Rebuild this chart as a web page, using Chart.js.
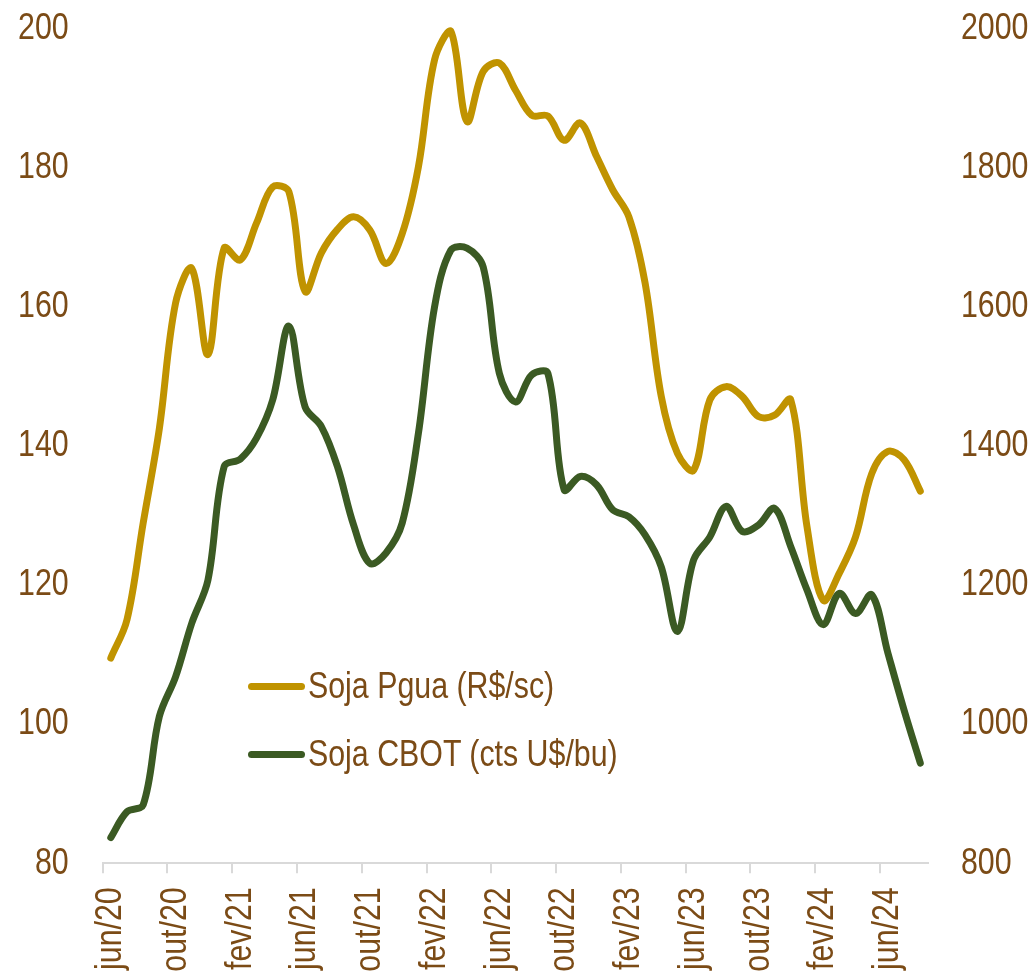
<!DOCTYPE html>
<html lang="pt-BR">
<head>
  <meta charset="UTF-8" />
  <title>Soja Paranaguá x CBOT</title>
  <style>
    body {
      margin: 0;
      background: #fff;
    }
    #wrap {
      position: relative;
      width: 1035px;
      height: 973px;
    }
    #legend {
      position: absolute;
      left: 248px;
      top: 652px;
      font-family: 'Liberation Sans', Arial, sans-serif;
      font-size: 37px;
      color: #7b4b16;
    }
    .item {
      display: flex;
      align-items: center;
      height: 68px;
      white-space: nowrap;
    }
    .swatch {
      width: 57px;
      height: 7px;
      border-radius: 4px;
      margin-right: 3px;
    }
    .item .txt {
      display: inline-block;
      transform: scaleX(0.82);
      transform-origin: left center;
    }
  </style>
</head>
<body>
  <div id="wrap">
    <canvas id="chart"></canvas>
    <div id="legend"></div>
  </div>

  <script src="https://cdn.jsdelivr.net/npm/chart.js"></script>
  <script>
    // meses jun/20 .. ago/24
    const months = [
      'jun/20', 'jul/20', 'ago/20', 'set/20', 'out/20', 'nov/20', 'dez/20',
      'jan/21', 'fev/21', 'mar/21', 'abr/21', 'mai/21', 'jun/21', 'jul/21', 'ago/21', 'set/21', 'out/21', 'nov/21', 'dez/21',
      'jan/22', 'fev/22', 'mar/22', 'abr/22', 'mai/22', 'jun/22', 'jul/22', 'ago/22', 'set/22', 'out/22', 'nov/22', 'dez/22',
      'jan/23', 'fev/23', 'mar/23', 'abr/23', 'mai/23', 'jun/23', 'jul/23', 'ago/23', 'set/23', 'out/23', 'nov/23', 'dez/23',
      'jan/24', 'fev/24', 'mar/24', 'abr/24', 'mai/24', 'jun/24', 'jul/24', 'ago/24'
    ];

    // Soja Paranaguá (R$/saca) - eixo esquerdo
    const sojaPgua = [
      109.5, 115.0, 128.9, 142.5, 160.5, 165.5, 153.1,
      168.4, 166.7, 172.0, 177.2, 176.5, 162.2, 167.7, 171.1, 172.9, 171.0, 166.2, 170.5,
      180.1, 195.5, 199.6, 186.6, 193.8, 195.0, 191.1, 187.5, 187.4, 183.9, 186.4, 181.6,
      176.8, 172.9, 163.4, 147.1, 138.9, 136.5, 146.6, 148.5, 147.1, 144.2, 144.4, 146.6,
      128.4, 117.8, 121.7, 126.9, 136.0, 139.2, 138.0, 133.5
    ];

    // Soja CBOT (cents US$/bushel) - eixo direito
    const sojaCbot = [
      837, 874, 884, 1011, 1068, 1145, 1207,
      1370, 1381, 1411, 1466, 1572, 1456, 1428, 1370, 1286, 1231, 1246, 1289,
      1418, 1600, 1681, 1684, 1657, 1504, 1463, 1502, 1504, 1337, 1356, 1344,
      1308, 1298, 1272, 1226, 1133, 1236, 1269, 1313, 1277, 1286, 1310, 1255,
      1193, 1143, 1188, 1159, 1186, 1102, 1020, 944
    ];

    const leftAxis = { min: 80, max: 200, step: 20 };
    const rightAxis = { min: 800, max: 2000, step: 200 };

    const brown = '#7b4b16';
    const gold = '#c09300';
    const green = '#3b5a23';
    const tickFont = { family: "'Liberation Sans', Arial, sans-serif", size: 37 };

    const ctx = document.getElementById('chart').getContext('2d');

    // no narrow font installed: squeeze canvas text horizontally (like Arial Narrow)
    const rawFillText = ctx.fillText.bind(ctx);
    ctx.fillText = function (text, x, y) {
      ctx.save();
      ctx.translate(x, y);
      ctx.scale(0.82, 1);
      rawFillText(text, 0, 0);
      ctx.restore();
    };

    const chart = new Chart(ctx, {
      type: 'line',
      data: {
        labels: months,
        datasets: [
          {
            label: 'Soja Pgua (R$/sc)',
            data: sojaPgua,
            yAxisID: 'y',
            borderColor: gold,
            backgroundColor: gold,
            borderWidth: 7,
            borderCapStyle: 'round',
            borderJoinStyle: 'round',
            pointRadius: 0,
            tension: 0.35,
            clip: false,
            order: 2
          },
          {
            label: 'Soja CBOT (cts U$/bu)',
            data: sojaCbot,
            yAxisID: 'y1',
            borderColor: green,
            backgroundColor: green,
            borderWidth: 7,
            borderCapStyle: 'round',
            borderJoinStyle: 'round',
            pointRadius: 0,
            tension: 0.35,
            clip: false,
            order: 1
          }
        ]
      },
      options: {
        responsive: true,
        maintainAspectRatio: false,
        animation: false,
        layout: { padding: { top: 28.3, left: 0, right: 0, bottom: 0 } },
        plugins: {
          legend: { display: false },
          tooltip: { enabled: false }
        },
        scales: {
          x: {
            type: 'category',
            offset: true,
            border: { display: true, color: '#d9d9d9', width: 2 },
            grid: {
              display: true,
              drawOnChartArea: false,
              drawTicks: true,
              tickLength: 10,
              offset: true,
              lineWidth: 2,
              color: c => (c.index % 4 === 0 && c.index < months.length) ? '#d9d9d9' : 'rgba(0,0,0,0)'
            },
            ticks: {
              autoSkip: false,
              maxRotation: 90,
              minRotation: 90,
              padding: 14,
              color: brown,
              font: tickFont,
              callback: (v, i) => (i % 4 === 0 ? months[i] : '')
            },
            afterFit: s => { s.height = 973 - 863.3; }
          },
          y: {
            position: 'left',
            min: leftAxis.min,
            max: leftAxis.max,
            border: { display: false },
            grid: { display: false, drawTicks: false },
            ticks: { stepSize: leftAxis.step, padding: 34, color: brown, font: tickFont, callback: v => v },
            afterFit: s => { s.width = 102.7; s.paddingTop = 0; s.paddingBottom = 0; }
          },
          y1: {
            position: 'right',
            min: rightAxis.min,
            max: rightAxis.max,
            border: { display: false },
            grid: { display: false, drawTicks: false },
            ticks: { stepSize: rightAxis.step, padding: 32.5, color: brown, font: tickFont, callback: v => v },
            afterFit: s => { s.width = 1035 - 928.4; s.paddingTop = 0; s.paddingBottom = 0; }
          }
        }
      }
    });

    // legenda dentro da área do gráfico
    const legend = document.getElementById('legend');
    chart.data.datasets.forEach(ds => {
      const row = document.createElement('div');
      row.className = 'item';
      const sw = document.createElement('span');
      sw.className = 'swatch';
      sw.style.background = ds.borderColor;
      const txt = document.createElement('span');
      txt.className = 'txt';
      txt.textContent = ds.label;
      row.appendChild(sw);
      row.appendChild(txt);
      legend.appendChild(row);
    });
  </script>
</body>
</html>
